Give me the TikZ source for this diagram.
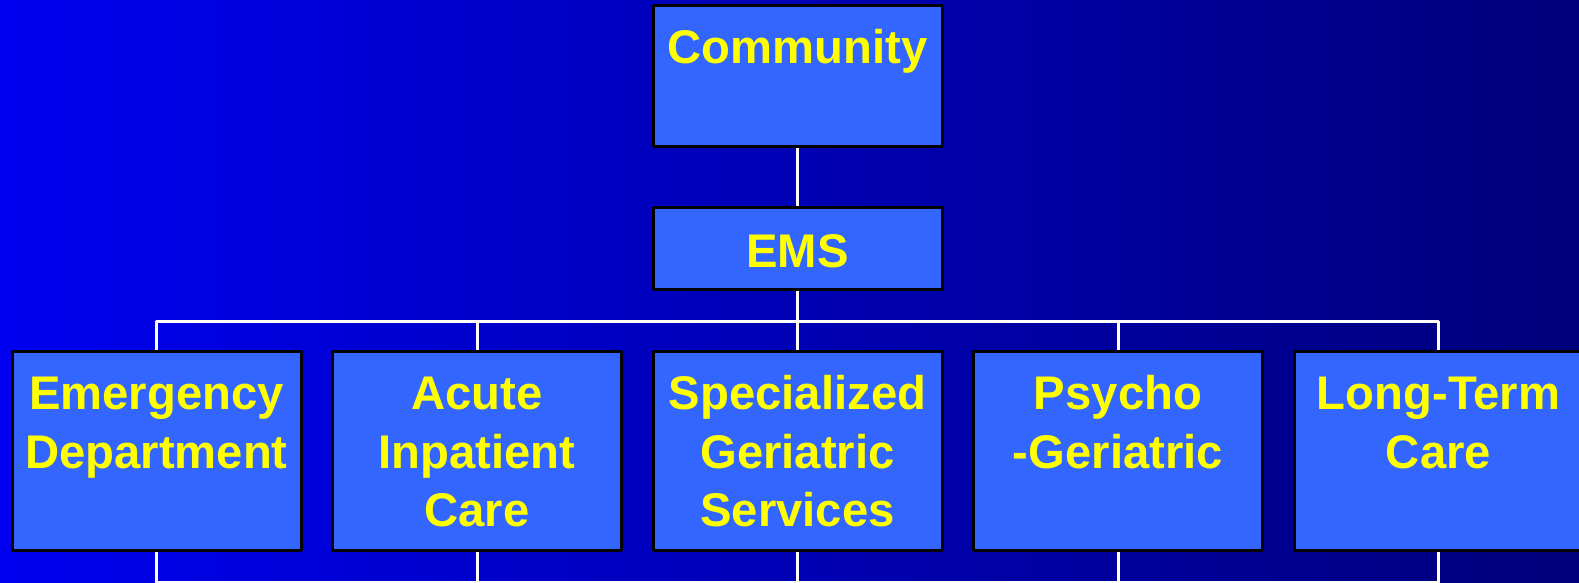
\documentclass[tikz,border=0pt]{standalone}
\usepackage{fontspec}
\setmainfont{Liberation Sans}
\definecolor{bgleft}{RGB}{0,0,240}
\definecolor{bgright}{RGB}{0,0,122}
\definecolor{boxblue}{RGB}{51,102,255}
\definecolor{txtyellow}{RGB}{255,255,0}
\begin{document}
\begin{tikzpicture}[line join=round,line cap=round,font=\fontsize{33.6}{41.3}\selectfont\bfseries,
	unit/.style={draw=black,line width=0.075cm,fill=boxblue,text=txtyellow,inner sep=0pt,
		text width=7.225cm,align=center,text height=1.45cm,text depth=3.525cm},
	wire/.style={draw=white,line width=0.075cm,line cap=butt}]
	\shade[left color=bgleft,right color=bgright] (0,0) rectangle (39.475,14.575);
	\useasboundingbox (0,0) rectangle (39.475,14.575);
	% top of the chart
	\node[unit,text depth=2.075cm] (comm) at (19.9375,12.6625) {Community};
	\node[unit,text height=1.5cm,text depth=0.55cm] (ems) at (19.9375,8.35) {EMS};
	% services
	\node[unit] (ed) at (3.9125,3.2875) {Emergency\\Department};
	\node[unit] (acute) at (11.925,3.2875) {Acute\\Inpatient\\Care};
	\node[unit] (sgs) at (19.9375,3.2875) {Specialized\\Geriatric\\Services};
	\node[unit] (psycho) at (27.95,3.2875) {Psycho\\-Geriatric};
	\node[unit] (ltc) at (35.9625,3.2875) {Long-Term\\Care};
	\coordinate (bus) at (19.9375,6.525);
	\coordinate (foot) at (19.9375,0.02);
	% connectors
	\draw[wire] (comm.south) -- (ems.north);
	\draw[wire] (ems.south) -- (bus);
	\draw[wire] (ed.north) |- (bus) -| (ltc.north);
	\draw[wire] (acute.north) -- (acute.north |- bus);
	\draw[wire] (sgs.north) -- (bus);
	\draw[wire] (psycho.north) -- (psycho.north |- bus);
	\draw[wire] (ed.south) |- (foot) -| (ltc.south);
	\draw[wire] (acute.south) -- (acute.south |- foot);
	\draw[wire] (sgs.south) -- (foot);
	\draw[wire] (psycho.south) -- (psycho.south |- foot);
\end{tikzpicture}
\end{document}
